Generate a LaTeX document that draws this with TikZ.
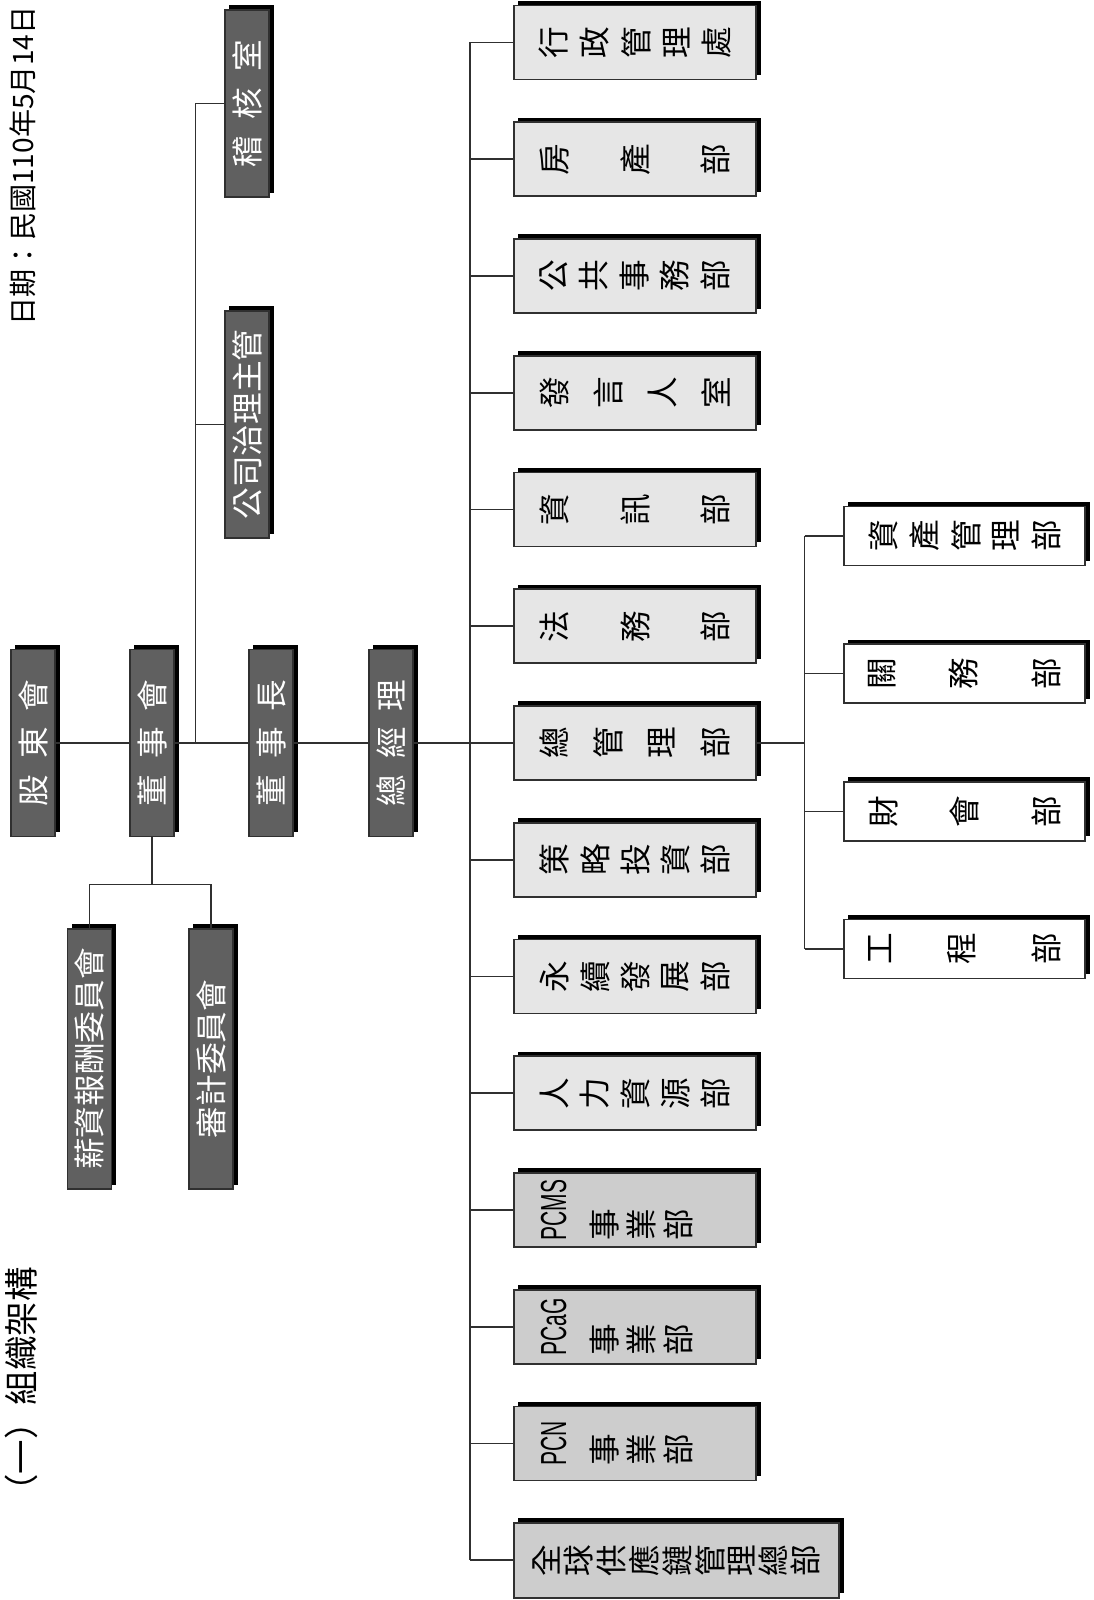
\documentclass[tikz,border=0pt]{standalone}
\usepackage{fontspec}
\setmainfont{Noto Sans CJK TC}
\newfontfamily\latinnarrow{Liberation Sans}
\usepackage{tikz}
\usetikzlibrary{shadows}
\definecolor{OrgDark}{HTML}{606060}
\definecolor{OrgLight}{HTML}{E6E6E6}
\definecolor{OrgMid}{HTML}{CDCDCD}
\definecolor{OrgLine}{HTML}{303030}
\newdimen\pxu \pxu=0.01cm
% each character turned on its own, spread over #1 px
\newcommand\vtext[2]{\makebox[#1\pxu][s]{\foreach[count=\i] \c in {#2}{\ifnum\i>1 \hfill\fi\rotatebox{90}{\c}}}}
% whole line turned, spread over #1 px
\newcommand\htext[2]{\rotatebox{90}{\makebox[#1\pxu][s]{\foreach[count=\i] \c in {#2}{\ifnum\i>1 \hfill\fi\c}}}}
\newcommand\bizunit[1]{\rotatebox{90}{\scalebox{.58}[1]{\latinnarrow\fontsize{10.3}{12}\selectfont #1}}\hspace{23\pxu}\rotatebox{90}{事}\hspace{8\pxu}\rotatebox{90}{業}\hspace{8\pxu}\rotatebox{90}{部}\kern36\pxu}
\tikzset{
  orgbox/.style={draw=OrgLine, line width=.45pt, inner sep=0pt, font=\fontsize{9}{10}\selectfont,
    drop shadow={shadow xshift=.045cm, shadow yshift=.045cm, fill=black, opacity=1}},
  darkbox/.style={orgbox, fill=OrgDark, text=white, minimum width=.44cm},
  deptbox/.style={orgbox, fill=OrgLight, minimum width=2.42cm, minimum height=.74cm},
  unitbox/.style={orgbox, fill=OrgMid, minimum width=2.42cm, minimum height=.74cm},
  subbox/.style={orgbox, fill=white, minimum width=2.41cm, minimum height=.59cm},
  link/.style={draw=OrgLine, line width=.45pt},
}
\begin{document}
\begin{tikzpicture}[x=0.01cm,y=-0.01cm]
\path[use as bounding box] (0,0) rectangle (1093,1600);
% titles
\node[rotate=90, font=\fontsize{8}{9}\selectfont] (date) at (23,166) {日期：民國110年5月14日};
\node[rotate=90, font=\fontsize{9.8}{11}\selectfont] (title) at (21,1388) {（一）組織架構};
% board column
\node[darkbox, minimum height=1.87cm] (gd) at (33,743) {\htext{126}{股,東,會}};
\node[darkbox, minimum height=1.87cm] (dsh) at (152,743) {\htext{126}{董,事,會}};
\node[darkbox, minimum height=1.87cm] (cm) at (271,743) {\htext{126}{董,事,長}};
\node[darkbox, minimum height=1.87cm] (gm) at (391,743) {\htext{126}{總,經,理}};
\node[darkbox, minimum height=1.87cm] (audit) at (247,103.5) {\htext{128}{稽,核,室}};
\node[darkbox, minimum height=2.27cm] (cg) at (247,424.5) {\rotatebox{90}{公司治理主管}};
\node[darkbox, minimum height=2.60cm] (pay) at (89.5,1059) {\rotatebox{90}{薪資報酬委員會}};
\node[darkbox, minimum height=2.60cm] (aud) at (211,1059) {\rotatebox{90}{審計委員會}};
% departments
\node[deptbox] (b0) at (635,42.5) {\vtext{192}{行,政,管,理,處}};
\node[deptbox] (b1) at (635,159.25) {\vtext{190}{房,產,部}};
\node[deptbox] (b2) at (635,276) {\vtext{190}{公,共,事,務,部}};
\node[deptbox] (b3) at (635,392.75) {\vtext{190}{發,言,人,室}};
\node[deptbox] (b4) at (635,509.5) {\vtext{190}{資,訊,部}};
\node[deptbox] (b5) at (635,626.25) {\vtext{190}{法,務,部}};
\node[deptbox] (b6) at (635,743) {\vtext{190}{總,管,理,部}};
\node[deptbox] (b7) at (635,859.75) {\vtext{190}{策,略,投,資,部}};
\node[deptbox] (b8) at (635,976.5) {\vtext{190}{永,續,發,展,部}};
\node[deptbox] (b9) at (635,1093.25) {\vtext{190}{人,力,資,源,部}};
\node[unitbox] (b10) at (635,1210) {\bizunit{PCMS}};
\node[unitbox] (b11) at (635,1326.75) {\bizunit{PCaG}};
\node[unitbox] (b12) at (635,1443.5) {\bizunit{PCN}};
\node[unitbox, minimum width=3.25cm, minimum height=.75cm] (b13) at (676.5,1560.25) {\vtext{287}{全,球,供,應,鏈,管,理,總,部}};
% under 總管理部
\node[subbox] (s0) at (964.5,536) {\vtext{192}{資,產,管,理,部}};
\node[subbox] (s1) at (964.5,673.7) {\vtext{192}{關,務,部}};
\node[subbox] (s2) at (964.5,811.4) {\vtext{192}{財,會,部}};
\node[subbox] (s3) at (964.5,949.1) {\vtext{192}{工,程,部}};
% connectors
\draw[link] (gd) -- (dsh);
\draw[link] (dsh) -- (cm);
\draw[link] (cm) -- (gm);
\coordinate (jA) at (195.5,743);
\draw[link] (jA) |- (audit);
\draw[link] (jA |- cg) -- (cg);
\coordinate (jB) at (152,884.5);
\draw[link] (dsh) -- (jB);
\draw[link] (pay) |- (jB) -| (aud);
\coordinate (tTop) at (470,42.5);
\draw[link] (tTop) -- (tTop |- b13);
\draw[link] (gm) -- (tTop |- gm);
\foreach \k in {0,...,13}
  \draw[link] (tTop |- b\k) -- (b\k);
\coordinate (sTop) at (804.5,536);
\draw[link] (b6) -- (sTop |- b6);
\draw[link] (sTop) -- (sTop |- s3);
\foreach \k in {0,...,3}
  \draw[link] (sTop |- s\k) -- (s\k);
\end{tikzpicture}
\end{document}
